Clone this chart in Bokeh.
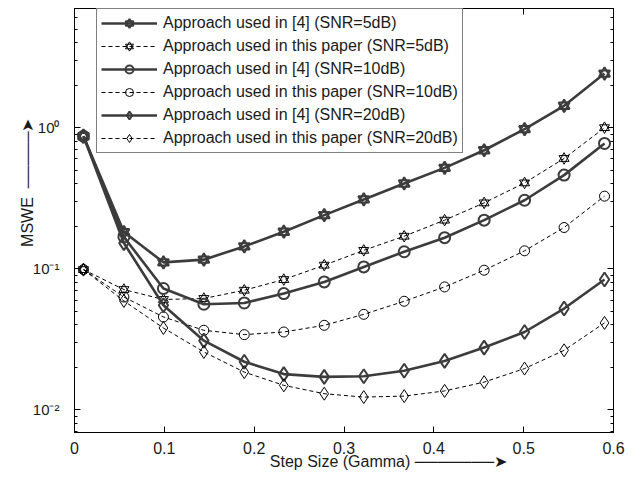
from bokeh.plotting import figure
from bokeh.models import (FixedTicker, CustomJSTickFormatter, LinearAxis, LogAxis,
                          Legend, LegendItem)
from bokeh.embed import file_html
from bokeh.resources import INLINE

# ---- data ----
gamma = [0.010, 0.055, 0.099, 0.144, 0.189, 0.233, 0.278, 0.322, 0.367, 0.412, 0.456, 0.501, 0.545, 0.590]

ref4_snr5 = [0.87, 0.182, 0.111, 0.116, 0.144, 0.183, 0.240, 0.310, 0.402, 0.519, 0.692, 0.976, 1.43, 2.42]
ours_snr5 = [0.0986, 0.0712, 0.0605, 0.0615, 0.0704, 0.0838, 0.106, 0.135, 0.170, 0.221, 0.293, 0.406, 0.605, 1.00]
ref4_snr10 = [0.87, 0.168, 0.0724, 0.056, 0.0572, 0.0667, 0.0806, 0.103, 0.132, 0.166, 0.221, 0.306, 0.461, 0.773]
ours_snr10 = [0.0986, 0.063, 0.0455, 0.0366, 0.0341, 0.0356, 0.0397, 0.0475, 0.0588, 0.0743, 0.0976, 0.134, 0.196, 0.327]
ref4_snr20 = [0.87, 0.152, 0.0551, 0.0309, 0.0219, 0.0179, 0.0171, 0.0173, 0.0189, 0.0222, 0.0276, 0.0356, 0.0522, 0.0838]
ours_snr20 = [0.0986, 0.0591, 0.038, 0.0257, 0.0185, 0.0149, 0.0130, 0.0123, 0.0125, 0.0136, 0.0157, 0.0196, 0.0264, 0.0413]

labels = [
    "Approach used in [4] (SNR=5dB)",
    "Approach used in this paper (SNR=5dB)",
    "Approach used in [4] (SNR=10dB)",
    "Approach used in this paper (SNR=10dB)",
    "Approach used in [4] (SNR=20dB)",
    "Approach used in this paper (SNR=20dB)",
]
x_ticks = [0, 0.1, 0.2, 0.3, 0.4, 0.5, 0.6]
y_ticks = [0.01, 0.1, 1]
x_title = "Step Size (Gamma)"
y_title = "MSWE"

FONT = "Liberation Sans"
SOLID = "#3c3c3c"
TXT = "#1a1a1a"
NB = "\u00a0"
BAR = "\u2500"
HEAD = "\u27a4"

x_arrow = NB + BAR * 7 + HEAD
y_arrow = NB + NB + BAR * 5 + HEAD

p = figure(width=636, height=477, y_axis_type="log",
           x_range=(0, 0.6), y_range=(0.0069, 7.0),
           output_backend="svg", toolbar_location=None,
           min_border_left=74, min_border_right=23, min_border_top=8, min_border_bottom=45)
p.xgrid.visible = False
p.ygrid.visible = False
p.outline_line_color = "black"
p.outline_line_width = 1

y_minor = [m * d for d in (0.001, 0.01, 0.1, 1) for m in range(2, 10)]
yticker = FixedTicker(ticks=y_ticks, minor_ticks=y_minor)
xticker = FixedTicker(ticks=x_ticks)

yfmt = CustomJSTickFormatter(code="""
const e = Math.round(Math.log10(tick));
const sup = {'0':'\u2070','1':'\u00b9','2':'\u00b2','3':'\u00b3','-':'\u207b'};
return '10' + String(e).split('').map(c => sup[c]).join('');
""")
xfmt = CustomJSTickFormatter(code="""
const s = tick.toFixed(1);
return s === '0.0' ? '0' : s;
""")
blank = CustomJSTickFormatter(code="return '';")

def style_axis(ax):
    ax.axis_line_color = "black"
    ax.major_tick_in = 6
    ax.major_tick_out = 0
    ax.minor_tick_in = 3
    ax.minor_tick_out = 0
    ax.major_tick_line_color = "black"
    ax.minor_tick_line_color = "black"
    ax.major_label_text_font = FONT
    ax.major_label_text_font_size = "16px"
    ax.major_label_text_color = TXT
    ax.axis_label_text_font = FONT
    ax.axis_label_text_font_size = "16px"
    ax.axis_label_text_font_style = "normal"
    ax.axis_label_text_color = TXT

# bottom x axis
xa = p.xaxis[0]
xa.ticker = xticker
xa.formatter = xfmt
style_axis(xa)
xa.minor_tick_line_color = None
xa.major_label_standoff = 9
xa.axis_label = NB * 20 + x_title + x_arrow
xa.axis_label_standoff = -4

# left y axis
ya = p.yaxis[0]
ya.ticker = yticker
ya.formatter = yfmt
style_axis(ya)
ya.major_label_text_font_size = "15px"
ya.major_label_standoff = 15
ya.axis_label = NB * 17 + y_title + y_arrow
ya.axis_label_standoff = -6

# top and right (box ticks, no labels)
top = LinearAxis(ticker=xticker, formatter=blank)
style_axis(top)
top.minor_tick_line_color = None
top.major_label_standoff = 0
top.major_label_text_font_size = "0px"
p.add_layout(top, "above")
right = LogAxis(ticker=yticker, formatter=blank)
style_axis(right)
right.major_label_standoff = 0
right.major_label_text_font_size = "0px"
p.add_layout(right, "right")

# series
def markers(y, marker, size, color, width):
    # a hexagram is drawn as two overlaid triangles
    shapes = ["triangle", "inverted_triangle"] if marker == "hexagram" else [marker]
    return [p.scatter(gamma, y, marker=m, size=size, line_color=color, line_width=width,
                      fill_color=None) for m in shapes]

def solid(y, marker, size):
    l = p.line(gamma, y, line_color=SOLID, line_width=2.6)
    return [l] + markers(y, marker, size, SOLID, 2)

def dashed(y, marker, size):
    l = p.line(gamma, y, line_color="black", line_width=1, line_dash="4 3")
    return [l] + markers(y, marker, size, "black", 1)

r = [
    solid(ref4_snr5, "hexagram", 11),
    dashed(ours_snr5, "hexagram", 10),
    solid(ref4_snr10, "circle", 11),
    dashed(ours_snr10, "circle", 10),
    solid(ref4_snr20, "diamond", 14),
    dashed(ours_snr20, "diamond", 13),
]

legend = Legend(items=[LegendItem(label=lab, renderers=rr) for lab, rr in zip(labels, r)],
                location=(22, 279))
legend.label_text_font = FONT
legend.label_text_font_size = "16px"
legend.label_text_color = TXT
legend.border_line_color = "black"
legend.border_line_width = 1
legend.background_fill_alpha = 1
legend.padding = 4
legend.spacing = 3
legend.label_height = 20
legend.glyph_height = 20
legend.glyph_width = 56
legend.label_standoff = 6
legend.margin = 0
p.add_layout(legend, "center")

open("out.html", "w").write(file_html(p, INLINE))
